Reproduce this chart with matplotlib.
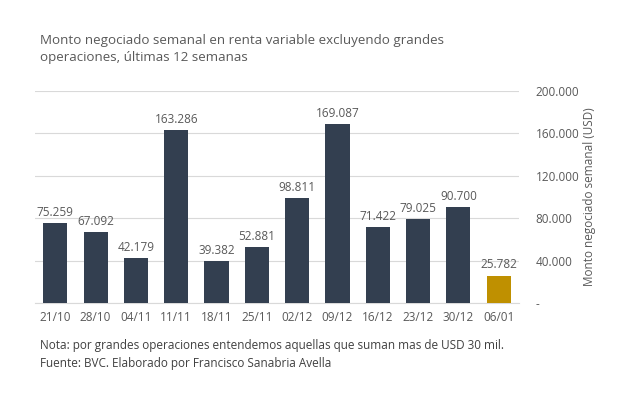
import matplotlib.pyplot as plt
import numpy as np

weeks = ['21/10', '28/10', '04/11', '11/11', '18/11', '25/11',
         '02/12', '09/12', '16/12', '23/12', '30/12', '06/01']
montos = [75259, 67092, 42179, 163286, 39382, 52881,
          98811, 169087, 71422, 79025, 90700, 25782]
yticks = [0, 40000, 80000, 120000, 160000, 200000]

plt.rcParams['font.family'] = ['Open Sans', 'DejaVu Sans']
gris = '#595959'

fig = plt.figure(figsize=(6.39, 3.96), dpi=100)
ax = fig.add_axes([0.055, 0.235, 0.757, 0.535])

colors = ['#333F50'] * (len(montos) - 1) + ['#BF9000']
x = np.arange(len(weeks))
ax.bar(x, montos, width=0.6, color=colors, zorder=3)

def fmt(v):
    return f'{v:,.0f}'.replace(',', '.')

for xi, v in zip(x, montos):
    ax.text(xi, v + 4000, fmt(v), ha='center', va='bottom', fontsize=8.5, color=gris)

ax.set_xlim(-0.5, len(weeks) - 0.5)
ax.set_ylim(0, 200000)
ax.set_xticks(x)
ax.set_xticklabels(weeks, fontsize=8.5, color=gris)
ax.set_yticks(yticks)
ax.set_yticklabels(['-' if t == 0 else fmt(t) for t in yticks], fontsize=8.5, color=gris)
ax.yaxis.tick_right()
ax.yaxis.set_label_position('right')
ax.set_ylabel('Monto negociado semanal (USD)', fontsize=8.5, color=gris, labelpad=3)
ax.tick_params(axis='both', length=0, pad=6)
ax.tick_params(axis='y', pad=12)
ax.grid(axis='y', color='#D9D9D9', linewidth=0.8, zorder=0)
for s in ['top', 'right', 'left']:
    ax.spines[s].set_visible(False)
ax.spines['bottom'].set_color('#D9D9D9')

fig.text(0.063, 0.915, 'Monto negociado semanal en renta variable excluyendo grandes\noperaciones, últimas 12 semanas',
         fontsize=9.6, color=gris, va='top', linespacing=1.45)
fig.text(0.063, 0.143, 'Nota: por grandes operaciones entendemos aquellas que suman mas de USD 30 mil.\nFuente: BVC. Elaborado por Francisco Sanabria Avella',
         fontsize=8.5, color='#404040', va='top', linespacing=1.5)

fig.savefig('out.png', dpi=100)
